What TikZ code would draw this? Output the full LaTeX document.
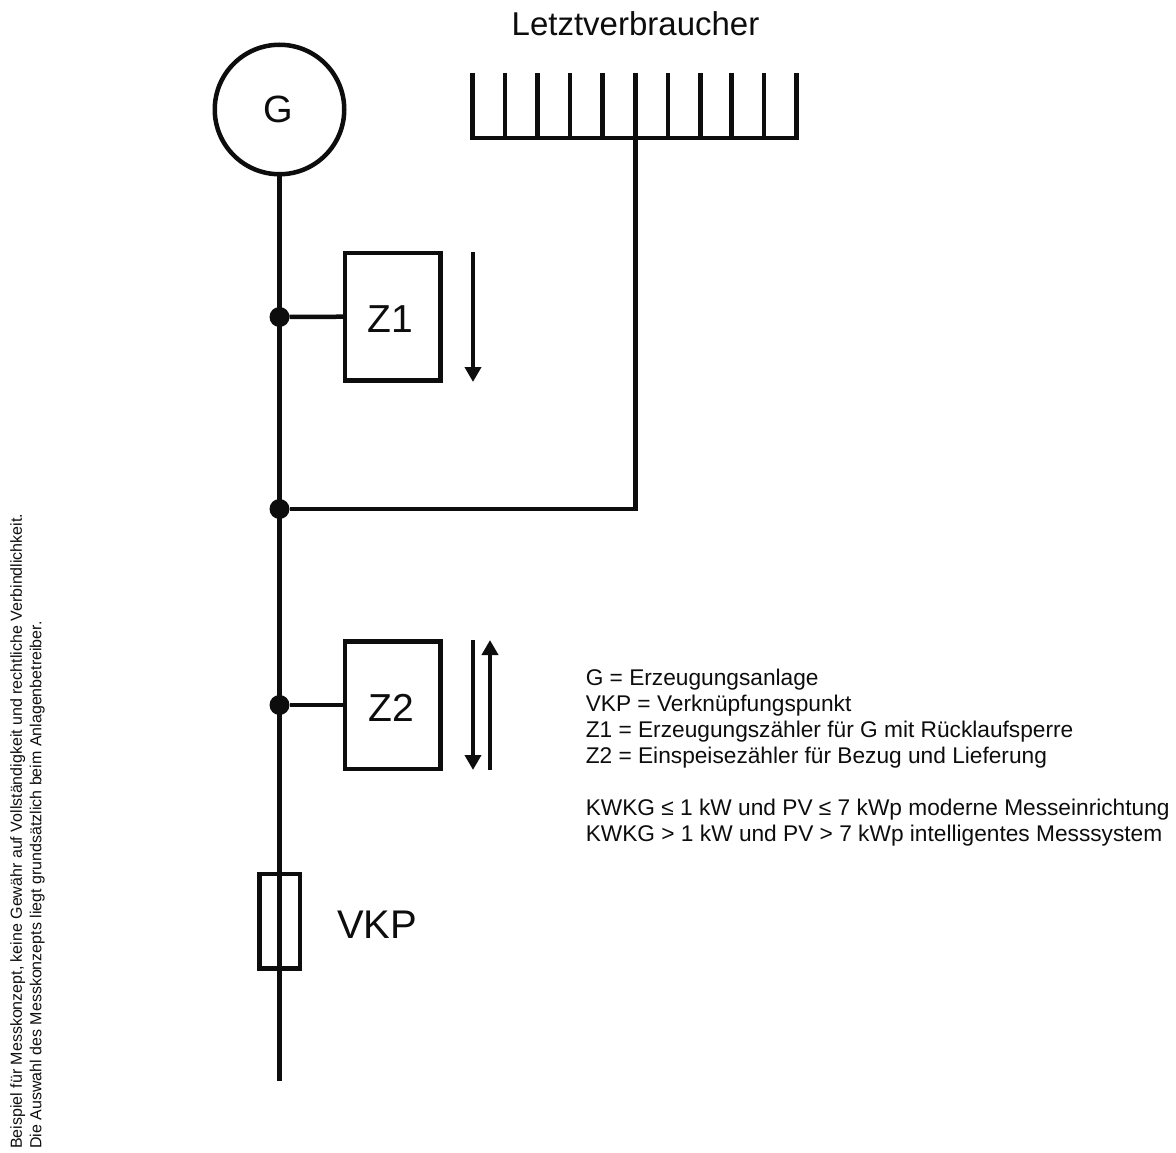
\documentclass[tikz,border=0pt]{standalone}
\usepackage{fontspec}
\setmainfont{Liberation Sans}
\usetikzlibrary{arrows.meta, positioning}
\definecolor{mainBlack}{gray}{0.05}

\begin{document}
\begin{tikzpicture}[x=1pt, y=-1pt, >={Triangle[length=15pt, width=16pt]}, line width=4.5pt, mainBlack,
    meter/.style={draw, minimum width=95.5pt, minimum height=127.5pt, inner sep=0pt, outer sep=0pt, text height=32pt, font=\fontsize{39}{41}\selectfont},
    junction/.style={circle, fill, minimum size=20pt, inner sep=0pt, outer sep=0pt},
    flow/.style={->, line width=4pt}]
    \useasboundingbox (0,0) rectangle (1176,1153);

    \node[draw, circle, minimum size=129.5pt, inner sep=0pt, outer sep=0pt, font=\fontsize{38}{40}\selectfont] (G) at (279.5, 109.5) {\hspace*{-2pt}G};
    \node[meter] (Z1) at (392.5, 316.5) {\hspace*{-4pt}Z1};
    \node[meter] (Z2) at (392.5, 705) {\hspace*{-2pt}Z2};
    \node[draw, minimum width=40.5pt, minimum height=94.5pt, inner sep=0pt, outer sep=0pt] (fuse) at (279.5, 921) {};
    \node[font=\fontsize{40}{42}\selectfont, right=35pt of fuse, yshift=-4pt, inner sep=0pt] (VKP) {VKP};
    \node[font=\fontsize{33}{35}\selectfont] (LV) at (635.5, 24) {Letztverbraucher};

    \node[junction] (J1) at (279.5, 317) {};
    \node[junction] (J2) at (279.5, 509) {};
    \node[junction] (J3) at (279.5, 705) {};
    \coordinate (end) at (279.5, 1081);
    \coordinate (busL) at (472.5, 138);
    \coordinate (busM) at (635.5, 138);
    \coordinate (busR) at (796.5, 138);
    \coordinate (corner) at (635.5, 509);

    % main line
    \draw (G) -- (fuse) -- (end);
    \draw (fuse.north) -- (fuse.south);
    \draw (J1) -- (Z1);
    \draw (J3) -- (Z2);
    \draw[line join=miter] (J2) -- (corner) -- (busM);

    % consumers
    \draw[line cap=rect] (busL) -- (busR);
    \foreach \x in {472.5, 505, 537.5, 570, 602.5, 635.5, 668, 700.5, 731.5, 764, 796.5}
        \draw (\x, 73) -- (\x, 138);

    % arrows
    \coordinate (a1) at (473, 252); \coordinate (a2) at (473, 382);
    \coordinate (b1) at (473, 640); \coordinate (b2) at (473, 770);
    \coordinate (c1) at (490, 770); \coordinate (c2) at (490, 640);
    \draw[flow] (a1) -- (a2);
    \draw[flow] (b1) -- (b2);
    \draw[flow] (c1) -- (c2);

    \node[anchor=north west, inner sep=0pt, align=left, font=\fontsize{22.7}{26}\selectfont] (legend) at (583.5, 666.5)
        {G = Erzeugungsanlage\\VKP = Verknüpfungspunkt\\Z1 = Erzeugungszähler für G mit Rücklaufsperre\\Z2 = Einspeisezähler für Bezug und Lieferung\\[26pt]KWKG ≤ 1 kW und PV ≤ 7 kWp moderne Messeinrichtung\\KWKG > 1 kW und PV > 7 kWp intelligentes Messsystem};
    \node[rotate=90, anchor=north west, inner sep=0pt, align=left, font=\fontsize{16}{19.5}\selectfont] (note) at (8, 1151)
        {Beispiel für Messkonzept, keine Gewähr auf Vollständigkeit und rechtliche Verbindlichkeit.\\Die Auswahl des Messkonzepts liegt grundsätzlich beim Anlagenbetreiber.};
\end{tikzpicture}
\end{document}
